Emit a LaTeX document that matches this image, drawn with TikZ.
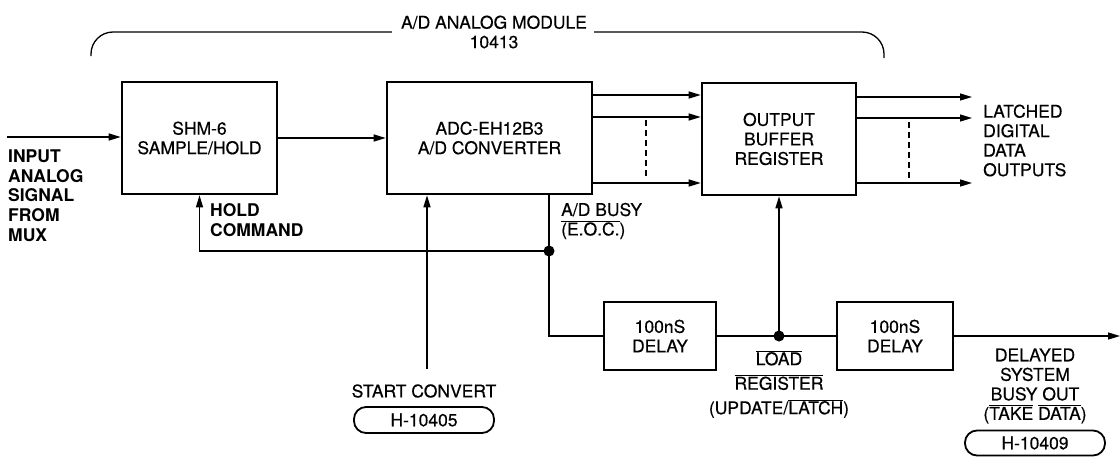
\documentclass[tikz,border=0pt]{standalone}
\usepackage{fontspec}
\setmainfont{TeX Gyre Heros}[UprightFeatures={FakeBold=0.4}]
\usetikzlibrary{arrows.meta,calc}
\newcommand{\ovl}[1]{$\overline{\hbox{#1}}$}
\tikzset{
  block/.style={draw, line width=2.6pt, inner sep=0pt, align=center},
  wire/.style={line width=1.3pt},
  sig/.style={wire, -{Triangle[length=12pt,width=7pt]}},
  bus/.style={line width=1.2pt, dash pattern=on 6pt off 4pt},
  lbl/.style={inner sep=0pt, align=left},
  tag/.style={draw, line width=1.8pt, rounded corners=12pt, minimum width=140pt, minimum height=26pt, inner sep=0pt},
}

\begin{document}
\begin{tikzpicture}[x=1pt, y=-1pt, font=\fontsize{17.5pt}{19.5pt}\selectfont]
    \useasboundingbox (0,0) rectangle (1120,458);

    % Blocks
    \node[block, minimum width=155pt, minimum height=112pt] (shm) at (199.5,138) {SHM-6\\SAMPLE/HOLD};
    \node[block, minimum width=205pt, minimum height=112pt] (adc) at (489.5,138) {ADC-EH12B3\\A/D CONVERTER};
    \node[block, minimum width=154pt, minimum height=112pt] (obr) at (779,139) {OUTPUT\\BUFFER\\REGISTER};
    \node[block, minimum width=112pt, minimum height=68pt] (dly1) at (660,336) {100nS\\DELAY};
    \node[block, minimum width=116pt, minimum height=68pt] (dly2) at (895,336) {100nS\\DELAY};

    % Module title and bracket
    \node[lbl, align=center] (title) at (494,32) {A/D ANALOG MODULE\\10413};
    \draw[wire, rounded corners=22pt] (91,56) |- ([xshift=-9pt]title.west);
    \draw[wire, rounded corners=22pt] ([xshift=7pt]title.east) -| (884,58);

    % Free ends and junctions
    \coordinate (in) at (7,137);
    \coordinate (lout) at (972,0);
    \coordinate (bout) at (1120,336);
    \coordinate (sc) at (427,369);
    \coordinate (j1) at (549,251);
    \coordinate (j2) at (obr.south |- dly1.east);

    % Analog path
    \draw[sig] (in) -- (in -| shm.west);
    \draw[sig] (shm) -- (adc);

    % Data lines
    \foreach \y in {95,117,183}
        \draw[sig] (adc.east |- 0,\y) -- (obr.west |- 0,\y);
    \foreach \y in {97,118,183}
        \draw[sig] (obr.east |- 0,\y) -- (lout |- 0,\y);
    \draw[bus] (646,120) -- (646,178);
    \draw[bus] (909,122) -- (909,180);

    % Control lines
    \draw[sig] (sc) -- (sc |- adc.south);
    \draw[wire] (adc.south -| j1) -- (j1) |- (dly1);
    \draw[sig] (j1) -| (shm.south);
    \draw[wire] (dly1) -- (dly2);
    \draw[sig] (j2) -- (j2 |- obr.south);
    \draw[sig] (dly2) -- (bout);
    \fill (j1) circle (5.5pt);
    \fill (j2) circle (5.5pt);

    % Labels
    \node[lbl, anchor=west, font=\fontsize{17.5pt}{19.7pt}\selectfont\bfseries] (inlbl) at (8,195.5) {INPUT\\ANALOG\\SIGNAL\\FROM\\MUX};
    \node[lbl, anchor=west, font=\fontsize{17.5pt}{20pt}\selectfont\bfseries] (holdlbl) at (210,220) {HOLD\\COMMAND};
    \node[lbl, anchor=west] (busylbl) at (561,221) {A/D BUSY\\\ovl{(E.O.C.})};
    \node[lbl, anchor=west] (latlbl) at (983,140.5) {LATCHED\\DIGITAL\\DATA\\OUTPUTS};
    \node[lbl, align=center] (loadlbl) at (779,384) {\ovl{LOAD}\\[5pt]\ovl{REGISTER}\\[5pt](UPDATE/\ovl{LATCH})};
    \node[lbl, align=center] (outlbl) at (1035,386) {DELAYED\\SYSTEM\\BUSY OUT\\(\ovl{TAKE} \ovl{DATA})};
    \node[lbl] (sclbl) at (424,391) {START CONVERT};
    \node[tag] (tagA) at (424,420) {H-10405};
    \node[tag, minimum height=25pt] (tagB) at (1035,443) {H-10409};
\end{tikzpicture}
\end{document}
